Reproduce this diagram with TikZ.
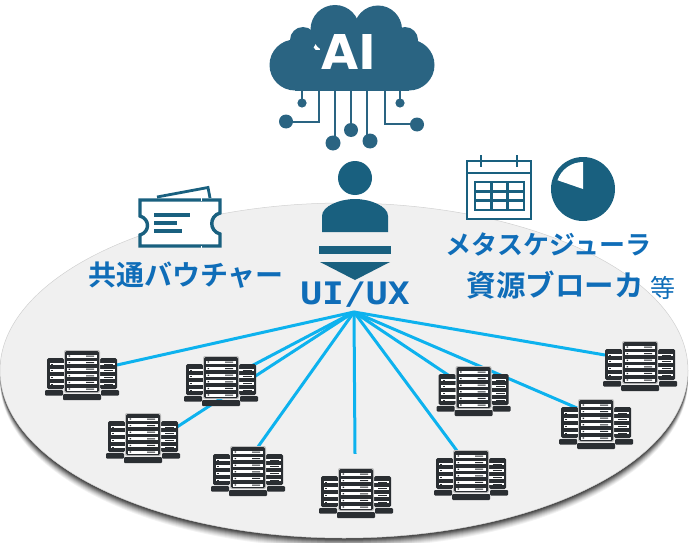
\documentclass[tikz,border=0pt]{standalone}
\usepackage{fontspec}
\newfontfamily\jp{Noto Sans CJK JP}[BoldFont={Noto Sans CJK JP Bold}]
\newfontfamily\lat{DejaVu Sans}
\newfontfamily\mon{DejaVu Sans Mono}
\definecolor{icon}{HTML}{19607F}
\definecolor{cloud}{HTML}{2A6482}
\definecolor{label}{HTML}{0F6DB8}
\definecolor{wire}{HTML}{0DB2EE}
\definecolor{disc}{HTML}{F0F0F0}
\definecolor{rack}{HTML}{2A2E32}
\tikzset{
  x=1pt,y=-1pt,
  wirelink/.style={draw=wire,line width=3pt},
  trace/.style={draw=cloud,line width=2.8pt},
  srvbox/.style={minimum width=74pt,minimum height=50pt,inner sep=0pt,draw=none},
  serverunit/.pic={
    \fill[rack,rounded corners=1.5pt] (-35,-18) rectangle (-18,13);
    \fill[rack,rounded corners=1.5pt] (18,-18) rectangle (35,13);
    \fill[black!25,rounded corners=2pt] (-18,-26) rectangle (18,17);
    \fill[rack,rounded corners=1.5pt] (-17,-25) rectangle (17,16);
    \foreach \r in {-20,-13.4,-6.8,-0.2,6.4,13}{
      \fill[white] (-15,\r-1.5) rectangle (14.5,\r+1.5);
      \fill[rack] (-13.5,\r-.6) rectangle (-12,\r+.6) (4,\r-.5) rectangle (12,\r+.5);
    }
    \foreach \r in {-12,-5.3,1.4,8}{
      \fill[white] (-32.5,\r-1.3) rectangle (-18,\r+1.3);
      \fill[rack] (-31,\r-.5) rectangle (-29,\r+.5);
      \fill[white] (18,\r-1.3) rectangle (32.5,\r+1.3);
      \fill[rack] (22,\r-.5) rectangle (31,\r+.5);
    }
    \fill[rack,rounded corners=1pt] (-19,18) rectangle (19,24);
    \fill[rack,rounded corners=1pt] (-37,14) rectangle (-19,19.5);
    \fill[rack,rounded corners=1pt] (19,14) rectangle (37,19.5);
  },
}
\begin{document}
\begin{tikzpicture}
\useasboundingbox (0,0) rectangle (696,543);
% disc with soft shadow below it
\foreach \o/\a in {10/.05,9/.06,8/.07,7/.08,6/.1,5/.12,4/.15,3/.18,2/.2,1/.22}{
  \fill[black,opacity=\a] (344,370.5+\o) ellipse [x radius=344,y radius=167.5];
}
\fill[disc] (344,370.5) ellipse [x radius=344,y radius=167.5];
\draw[black!18,line width=.5pt] (344,370.5) ellipse [x radius=344,y radius=167.5];

% server anchors
\node[srvbox] (s1) at (82,376) {};
\node[srvbox] (s2) at (221,382) {};
\node[srvbox] (s3) at (143,439) {};
\node[srvbox] (s4) at (248,472) {};
\node[srvbox] (s5) at (356,494) {};
\node[srvbox] (s6) at (473.5,392) {};
\node[srvbox] (s7) at (471,476) {};
\node[srvbox] (s8) at (596,425) {};
\node[srvbox] (s9) at (640,367) {};
\coordinate (hub) at (354,312);

% connectors
\draw[wirelink] (hub) -- ([shift={(35pt,11pt)}]s1.center);
\draw[wirelink] (hub) -- (s2.center);
\draw[wirelink] (hub) -- ([shift={(34pt,12pt)}]s3.center);
\draw[wirelink] (hub) -- ([xshift=10pt]s4.north);
\draw[wirelink] (hub) -- ([shift={(-1pt,15pt)}]s5.north);
\draw[wirelink] (hub) -- (s6.center);
\draw[wirelink] (hub) -- ([xshift=-14pt]s7.north);
\draw[wirelink] (hub) -- ([shift={(-19pt,17pt)}]s8.center);
\draw[wirelink] (hub) -- ([shift={(-35pt,12pt)}]s9.center);

% servers
\foreach \n in {s1,s2,s3,s4,s5,s6,s7,s8,s9}{ \pic at (\n) {serverunit}; }

% cloud
\fill[cloud] (295,65) circle (25.5);
\fill[cloud] (409,65) circle (25.5);
\fill[cloud] (303,40) circle (13);
\fill[cloud] (405,40) circle (13);
\fill[cloud] (335,29.5) circle (24.5);
\fill[cloud] (378,29.5) circle (24);
\fill[cloud] (295,50) rectangle (409,90.5);
\fill[cloud] (320,25) rectangle (395,60);
\node[text=white,font=\lat\bfseries\fontsize{48}{48}\selectfont,inner sep=0pt] (ai) at (348.5,52) {AI};
\draw[trace] (302,91) -- (302,103);
\fill[cloud] (302,103) circle (4.6);
\draw[trace] (319,91) -- (319,122) -- (286,122);
\fill[cloud] (286,121.5) circle (7);
\draw[trace] (335,91) -- (335,143);
\fill[cloud] (333,143) circle (7.5);
\draw[trace] (351,91) -- (351,130);
\fill[cloud] (351,130) circle (7);
\draw[trace] (367,91) -- (367,141);
\fill[cloud] (370,141) circle (7.5);
\draw[trace] (385,91) -- (385,124) -- (417,124);
\fill[cloud] (417,124.5) circle (7);
\draw[trace] (400,91) -- (400,103);
\fill[cloud] (400,103) circle (4.6);

% person
\fill[icon] (355,178) circle (17);
\fill[icon] (322,232) -- (322,216) .. controls (322,206) and (340,199) .. (355,199)
  .. controls (370,199) and (388,206) .. (388,216) -- (388,232) -- cycle;
\fill[icon] (319,246) rectangle (391,254);
\fill[icon] (320,262) -- (390,262) -- (355,280) -- cycle;

% ticket
\draw[icon,line width=2.8pt] (157,197) -- (208,187.5) -- (210,198);
\draw[icon,line width=3.4pt,fill=white] (140,200) -- (220,200) -- (220,213)
  .. controls (209,216) and (209,231) .. (220,234) -- (220,246)
  -- (140,246) -- (140,235) .. controls (150,232) and (150,219) .. (140,216) -- cycle;
\draw[white,line width=1pt,dash pattern=on 3pt off 3pt] (201,198) -- (201,248);
\draw[icon,line width=3.2pt] (154,215) -- (190,215) (154,223) -- (177,223) (154,231) -- (182,231);

% calendar
\draw[icon,line width=2.6pt,fill=white] (467,161) rectangle (531,219);
\draw[icon,line width=2.6pt] (467,173) -- (531,173) (481,155) -- (481,167) (517,155) -- (517,167);
\draw[icon,line width=2.4pt] (475,182) rectangle (524,210)
  (491.3,182) -- (491.3,210) (507.6,182) -- (507.6,210)
  (475,191.3) -- (524,191.3) (475,200.6) -- (524,200.6);

% pie
\fill[icon] (583,189) circle (32);
\fill[white] (583,189) -- (583,162) arc[start angle=90,end angle=161,radius=27,y radius=-27] -- cycle;

% labels
\node[text=label,font=\jp\bfseries\fontsize{28}{28}\selectfont,inner sep=0pt] (voucher) at (186,275) {共通バウチャー};
\node[text=label,font=\jp\bfseries\fontsize{26}{26}\selectfont,inner sep=0pt] (meta) at (548.5,244) {メタスケジューラ};
\node[text=label,font=\jp\bfseries\fontsize{29.5}{29.5}\selectfont,inner sep=0pt] (broker) at (555,285) {資源ブローカ};
\node[text=label,font=\jp\fontsize{25}{25}\selectfont,inner sep=0pt] (etc) at (663,288) {等};
\node[text=label,font=\mon\bfseries\fontsize{31}{31}\selectfont,inner sep=0pt,xscale=1.17] (uiux) at (355,295) {UI/UX};
\end{tikzpicture}
\end{document}
